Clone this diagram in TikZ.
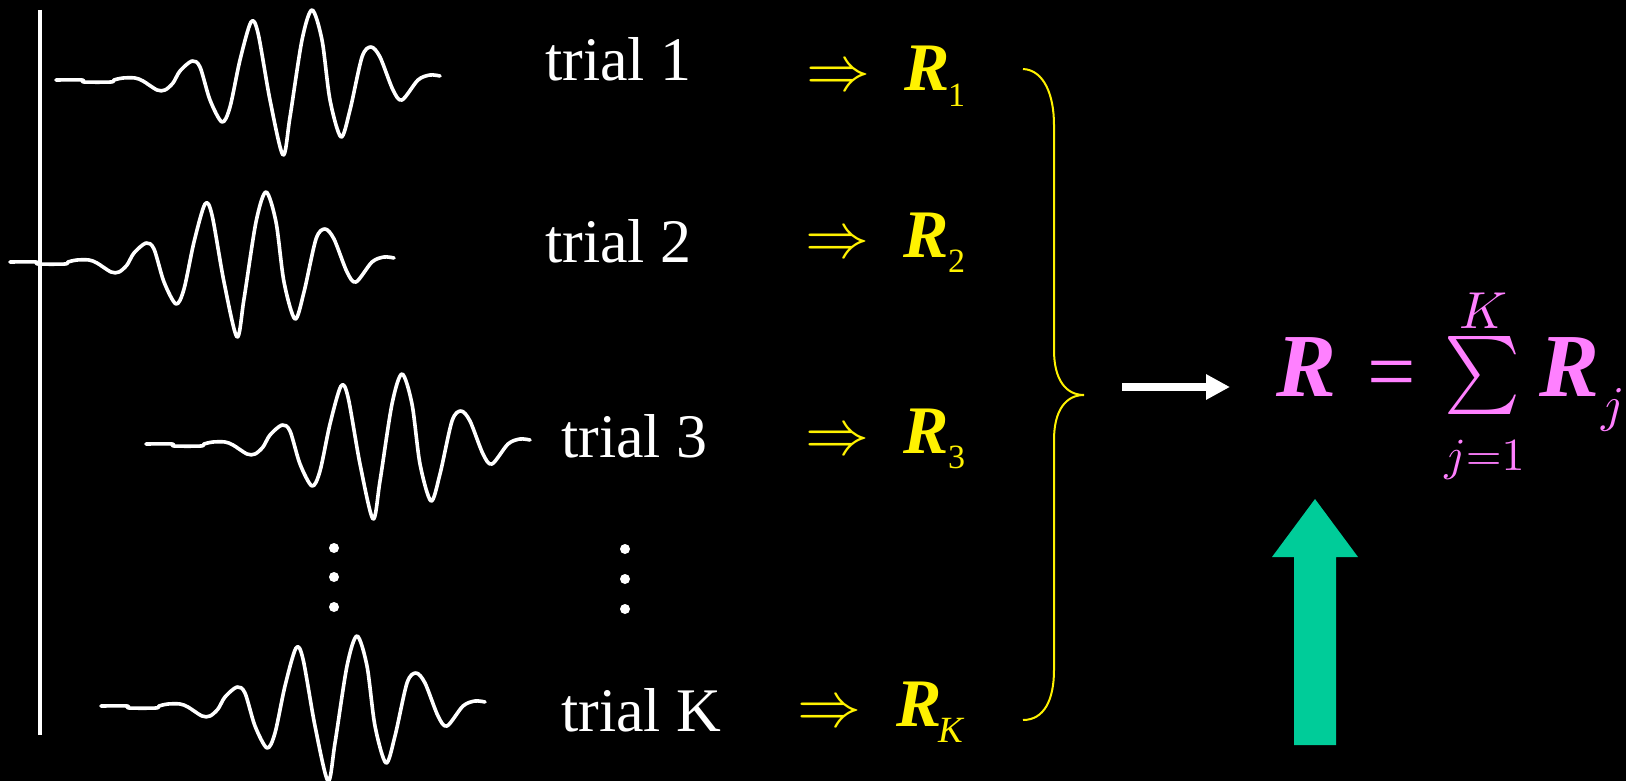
\documentclass[tikz,border=0pt]{standalone}
\usepackage{fontspec}
\setmainfont{Liberation Serif}
\usepackage{graphicx}
\usetikzlibrary{arrows.meta}
\definecolor{rviolet}{RGB}{255,128,255}
\definecolor{rgreen}{RGB}{0,204,153}
\tikzset{
  wavecurve/.style={white, line width=3.6pt, line join=round, line cap=round},
  wave/.pic={\draw[wavecurve] plot[smooth,tension=0.5] coordinates {
    (0,0) (26,0) (28,2) (55,2) (58,0) (67,-2) (79,-2) (87,1) (101,10) (109,10)
    (117,3) (124,-9) (136,-19) (144,-13) (154,20) (166,42) (174,27) (184,-20)
    (195,-58) (202,-47) (214,20) (227,75) (234,37) (246,-40) (256,-70) (266,-40)
    (274,20) (285,57) (294,30) (306,-23) (315,-33) (324,-23) (337,10) (346,20)
    (362,0) (374,-5) (384,-4)};},
  trialtxt/.style={text=white, font=\fontsize{62}{70}\selectfont, inner sep=0pt, anchor=base west},
  rsym/.style={text=yellow, font=\fontsize{68}{72}\selectfont\bfseries\itshape, inner sep=0pt, anchor=base west},
  rsub/.style={text=yellow, font=\fontsize{34}{40}\selectfont, inner sep=0pt, anchor=base west},
  impl/.style={text=yellow, inner sep=0pt, anchor=base west},
  dotmark/.style={white, radius=5pt},
  fml/.style={text=rviolet, inner sep=0pt},
  fmlR/.style={text=rviolet, font=\fontsize{90}{96}\selectfont\bfseries\itshape, inner sep=0pt, anchor=base west},
}
\begin{document}
\begin{tikzpicture}[x=1pt,y=-1pt]
\fill[black] (0,0) rectangle (1626,781);
\useasboundingbox (0,0) rectangle (1626,781);

% time axis
\draw[white, line width=4pt] (40,10) -- (40,735);

% waveforms
\pic at (56,80) {wave};
\pic at (10,262) {wave};
\pic at (146,444) {wave};
\pic at (101,706) {wave};

% dots
\fill[dotmark] (334,548) circle;
\fill[dotmark] (334,577) circle;
\fill[dotmark] (334,607) circle;
\fill[dotmark] (625,549) circle;
\fill[dotmark] (625,579) circle;
\fill[dotmark] (625,609) circle;

% trial labels
\node[trialtxt] (t1) at (545,81) {trial 1};
\node[trialtxt] (t2) at (545,262) {trial 2};
\node[trialtxt] (t3) at (561,457) {trial 3};
\node[trialtxt] (tK) at (561,731) {trial K};

% implications
\node[impl] (i1) at (806,91) {\scalebox{6.4}{$\Rightarrow$}};
\node[impl] (i2) at (805,257) {\scalebox{6.4}{$\Rightarrow$}};
\node[impl] (i3) at (805,454) {\scalebox{6.4}{$\Rightarrow$}};
\node[impl] (iK) at (797,726) {\scalebox{6.4}{$\Rightarrow$}};

% R_k
\node[rsym] (r1) at (904,91) {R};
\node[rsub] (s1) at (948,107) {1};
\node[rsym] (r2) at (903,257) {R};
\node[rsub] (s2) at (948,272) {2};
\node[rsym] (r3) at (903,453) {R};
\node[rsub] (s3) at (948,468) {3};
\node[rsym] (rK) at (896,726) {R};
\node[rsub, font=\fontsize{37}{40}\selectfont\itshape] (sK) at (938,742) {K};

% brace
\draw[yellow, line width=2pt] (1023,69) .. controls (1044,70) and (1054,95) .. (1054,125)
  -- (1054,350) .. controls (1054,380) and (1066,395) .. (1084,395)
  .. controls (1066,395) and (1054,410) .. (1054,440)
  -- (1054,670) .. controls (1054,700) and (1044,720) .. (1023,720);

% formula
\node[fmlR] (R) at (1276,396) {R};
\node[fml, anchor=base, font=\fontsize{86}{90}\selectfont] (eq) at (1391.5,400) {=};
\node[fml, anchor=center] (sum) at (1482.5,375) {\resizebox*{76pt}{78pt}{$\sum$}};
\node[fml, anchor=base] (up) at (1483,328) {\scalebox{5.2}{$K$}};
\node[fml, anchor=base] (lo) at (1484.5,470) {\scalebox{4.6}{$j{=}1$}};
\node[fmlR] (Rj) at (1539,396) {R};
\node[fml, anchor=base west] (sj) at (1601,421) {\scalebox{5.0}{$j$}};

% white arrow
\coordinate (wa) at (1122,387);
\coordinate (wb) at (1230,387);
\draw[white, line width=8.4pt, -{Triangle[length=24pt,width=24pt]}] (wa) -- (wb);

% green block arrow
\fill[rgreen] (1294,745) -- (1294,557) -- (1272,557) -- (1315,499) -- (1358,557)
  -- (1336,557) -- (1336,745) -- cycle;
\end{tikzpicture}
\end{document}
